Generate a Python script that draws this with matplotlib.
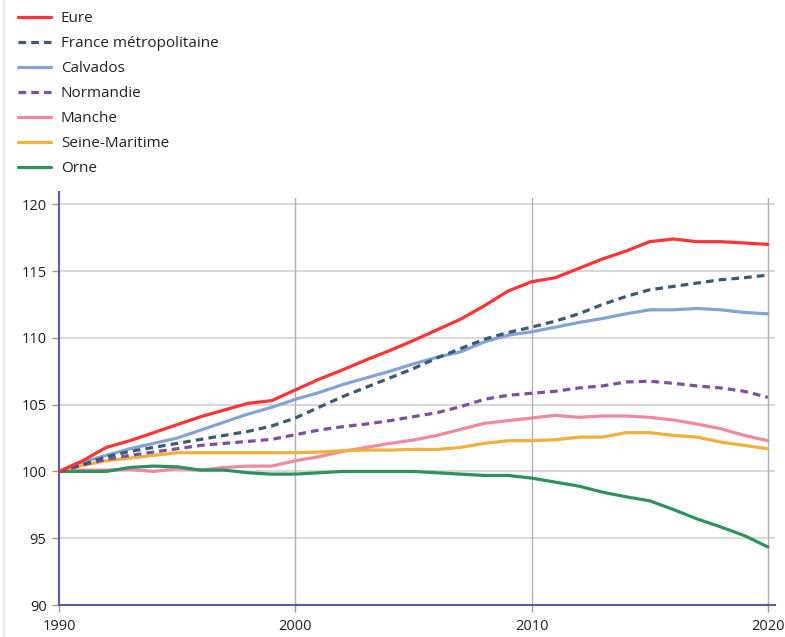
import matplotlib.pyplot as plt
from matplotlib.lines import Line2D

plt.rcParams['font.family'] = ['Open Sans', 'DejaVu Sans']

years = list(range(1990, 2021))

eure = [100.0, 100.8, 101.8, 102.3, 102.9, 103.5, 104.1, 104.6, 105.1, 105.3,
        106.1, 106.9, 107.6, 108.35, 109.05, 109.8, 110.6, 111.4, 112.4, 113.5,
        114.2, 114.5, 115.2, 115.9, 116.5, 117.2, 117.4, 117.2, 117.2, 117.1, 117.0]
france = [100.0, 100.5, 101.1, 101.5, 101.8, 102.1, 102.4, 102.7, 103.0, 103.4,
          104.0, 104.8, 105.6, 106.3, 107.0, 107.7, 108.5, 109.2, 109.9, 110.4,
          110.8, 111.25, 111.8, 112.5, 113.1, 113.6, 113.85, 114.1, 114.35, 114.5, 114.7]
calvados = [100.0, 100.7, 101.2, 101.7, 102.1, 102.5, 103.1, 103.7, 104.3, 104.8,
            105.4, 105.9, 106.5, 107.0, 107.5, 108.05, 108.55, 108.95, 109.7, 110.2,
            110.45, 110.8, 111.15, 111.45, 111.8, 112.1, 112.1, 112.2, 112.1, 111.9, 111.8]
normandie = [100.0, 100.5, 100.9, 101.2, 101.45, 101.7, 101.95, 102.1, 102.25, 102.4,
             102.75, 103.1, 103.35, 103.55, 103.8, 104.1, 104.4, 104.85, 105.4, 105.7,
             105.85, 106.0, 106.25, 106.4, 106.7, 106.75, 106.6, 106.4, 106.25, 106.0, 105.55]
manche = [100.0, 100.1, 100.1, 100.15, 100.0, 100.2, 100.1, 100.3, 100.4, 100.4,
          100.8, 101.1, 101.5, 101.8, 102.1, 102.35, 102.7, 103.15, 103.6, 103.8,
          104.0, 104.2, 104.05, 104.15, 104.15, 104.05, 103.85, 103.55, 103.2, 102.7, 102.3]
seine_maritime = [100.0, 100.45, 100.8, 101.0, 101.2, 101.4, 101.4, 101.4, 101.4, 101.4,
                  101.4, 101.45, 101.55, 101.6, 101.6, 101.65, 101.65, 101.8, 102.1, 102.3,
                  102.3, 102.37, 102.57, 102.57, 102.9, 102.9, 102.7, 102.57, 102.2, 101.95, 101.7]
orne = [100.0, 100.0, 100.0, 100.3, 100.4, 100.35, 100.1, 100.1, 99.9, 99.8,
        99.8, 99.9, 100.0, 100.0, 100.0, 100.0, 99.9, 99.8, 99.7, 99.7,
        99.5, 99.2, 98.9, 98.45, 98.1, 97.8, 97.15, 96.45, 95.85, 95.2, 94.35]

labels = ['Eure', 'France métropolitaine', 'Calvados', 'Normandie',
          'Manche', 'Seine-Maritime', 'Orne']
series = [eure, france, calvados, normandie, manche, seine_maritime, orne]
colors = ['#ff3333', '#3d5a73', '#84a2d6', '#7d4f9f', '#f0889e', '#f0b03a', '#2e9160']
dashed = [False, True, False, True, False, False, False]
zorders = [9, 8, 5, 7, 4, 5, 6]

fig = plt.figure(figsize=(7.85, 6.37), dpi=100)
ax = fig.add_axes([0.0752, 0.0502, 0.912, 0.648])

handles = []
for vals, lab, col, d, z in zip(series, labels, colors, dashed, zorders):
    if d:
        ln, = ax.plot(years, vals, color=col, lw=2.3, label=lab, zorder=z,
                      dashes=(2.4, 1.6), dash_capstyle='butt')
    else:
        ln, = ax.plot(years, vals, color=col, lw=2.3, label=lab, zorder=z,
                      solid_capstyle='round')
    handles.append(ln)

ax.set_xlim(1990, 2020.3)
ax.set_ylim(90, 120.9)
ax.set_yticks([90, 95, 100, 105, 110, 115, 120])
ax.set_xticks([1990, 2000, 2010, 2020])

# grille
for v in [95, 100, 105, 110, 115, 120]:
    ax.axhline(v, color='#d9d9d9', lw=1.5, zorder=1)
for yr in [2000, 2010, 2020]:
    ax.plot([yr, yr], [90, 120.45], color='#b0b0b0', lw=1, zorder=1)

for s in ['top', 'right']:
    ax.spines[s].set_visible(False)
for s in ['left', 'bottom']:
    ax.spines[s].set_color('#5b5ba0')
    ax.spines[s].set_linewidth(1.5)
ax.tick_params(axis='both', colors='#999999', length=5, width=1,
               labelsize=10.5, labelcolor='#222222')
ax.tick_params(axis='x', pad=5)
ax.tick_params(axis='y', pad=4)

fig.legend(handles=handles, loc='upper left', bbox_to_anchor=(0.009, 0.999),
           frameon=False, fontsize=11, handlelength=2.2, handletextpad=0.62,
           labelspacing=0.65, borderaxespad=0.3, labelcolor='#222222')

fig.add_artist(Line2D([3.5 / 785, 3.5 / 785], [0, 1], color='#e8e8e8', lw=1.5))

fig.savefig('out.png', dpi=100)
